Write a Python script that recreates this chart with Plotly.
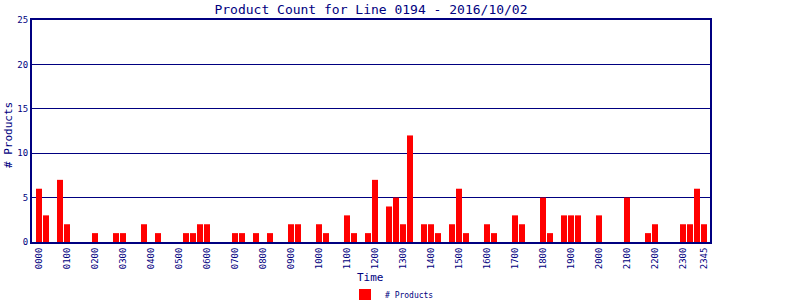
import plotly.graph_objects as go

slots = [f"{h:02d}{m:02d}" for h in range(24) for m in (0, 15, 30, 45)]
nonzero = {
    0: 6, 1: 3, 3: 7, 4: 2, 8: 1, 11: 1, 12: 1, 15: 2, 17: 1, 21: 1, 22: 1, 23: 2,
    24: 2, 28: 1, 29: 1, 31: 1, 33: 1, 36: 2, 37: 2, 40: 2, 41: 1, 44: 3, 45: 1,
    47: 1, 48: 7, 50: 4, 51: 5, 52: 2, 53: 12, 55: 2, 56: 2, 57: 1, 59: 2, 60: 6,
    61: 1, 64: 2, 65: 1, 68: 3, 69: 2, 72: 5, 73: 1, 75: 3, 76: 3, 77: 3, 80: 3,
    84: 5, 87: 1, 88: 2, 92: 2, 93: 2, 94: 6, 95: 2,
}
counts = [nonzero.get(i, 0) for i in range(len(slots))]
tick_labels = [f"{h:02d}00" for h in range(24)] + ["2345"]

NAVY = "#000080"
FONT = "DejaVu Sans Mono"

L, R, T, B = 32, 90, 20, 58
PH = 300 - T - B

fig = go.Figure()
fig.add_trace(go.Bar(
    x=slots, y=counts, name="# Products",
    marker=dict(color="#FF0000", line=dict(width=0)),
    showlegend=True,
))

fig.update_layout(
    width=800, height=300,
    margin=dict(l=L, r=R, t=T, b=B, autoexpand=False),
    paper_bgcolor="white", plot_bgcolor="white",
    bargap=0.14,
    font=dict(family=FONT, color=NAVY),
    title=dict(text="Product Count for Line 0194 - 2016/10/02", x=(32 + 710) / 2 / 800,
               xanchor="center", y=1 - 9.5 / 300, yanchor="middle",
               font=dict(size=13, color=NAVY, family=FONT)),
    showlegend=True,
    legend=dict(orientation="h", x=(392 - L) / (800 - L - R), xanchor="center",
                y=(242 - 295) / PH, yanchor="middle",
                font=dict(size=8, color=NAVY, family=FONT),
                itemwidth=30, bgcolor="rgba(0,0,0,0)"),
    xaxis=dict(
        type="category", categoryorder="array", categoryarray=slots,
        range=[-1.0, 95.86], automargin=False,
        tickmode="array", tickvals=tick_labels, ticktext=tick_labels,
        tickangle=-90, tickfont=dict(size=9, color=NAVY, family=FONT),
        showgrid=False, showline=True, linecolor=NAVY, linewidth=2, mirror=True,
        ticks="",
    ),
    yaxis=dict(
        range=[0, 25], tickvals=[0, 5, 10, 15, 20, 25], automargin=False,
        tickfont=dict(size=9, color=NAVY, family=FONT),
        showgrid=True, gridcolor=NAVY, gridwidth=1,
        showline=True, linecolor=NAVY, linewidth=2, mirror=True,
        ticks="", zeroline=False,
    ),
    annotations=[
        dict(text="Time", xref="paper", yref="paper",
             x=(370 - L) / (800 - L - R), y=(242 - 277) / PH,
             xanchor="center", yanchor="middle", showarrow=False,
             font=dict(size=11, color=NAVY, family=FONT)),
        dict(text="# Products", xref="paper", yref="paper",
             x=(8 - L) / (800 - L - R), y=(242 - 135) / PH,
             xanchor="center", yanchor="middle", showarrow=False, textangle=-90,
             font=dict(size=11, color=NAVY, family=FONT)),
    ],
)

fig.write_html("out.html")
